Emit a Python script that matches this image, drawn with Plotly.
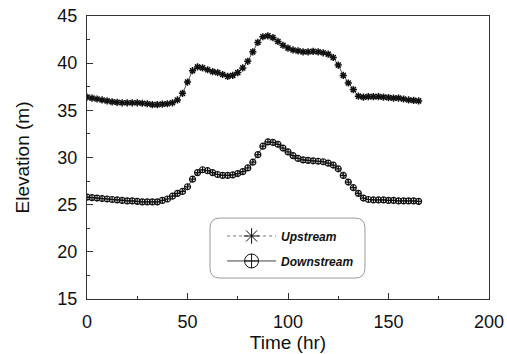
import plotly.graph_objects as go

time_hr = [i * 2.5 for i in range(67)]

upstream = [36.4, 36.3, 36.2, 36.1, 36.0, 35.9, 35.85, 35.8, 35.8, 35.8,
            35.8, 35.75, 35.7, 35.6, 35.6, 35.65, 35.7, 35.8, 36.1, 36.8,
            38.0, 39.2, 39.6, 39.5, 39.3, 39.1, 39.0, 38.8, 38.6, 38.7,
            39.0, 39.5, 40.2, 41.2, 42.2, 42.8, 42.9, 42.7, 42.3, 41.9,
            41.6, 41.4, 41.3, 41.2, 41.2, 41.25, 41.2, 41.1, 40.95, 40.6,
            39.8, 38.7, 37.9, 37.2, 36.5, 36.4, 36.45, 36.45, 36.45, 36.4,
            36.35, 36.3, 36.3, 36.2, 36.1, 36.05, 36.0]

downstream = [25.8, 25.75, 25.7, 25.65, 25.6, 25.55, 25.5, 25.45, 25.4, 25.4,
              25.35, 25.3, 25.3, 25.3, 25.3, 25.45, 25.6, 25.9, 26.2, 26.4,
              26.9, 27.7, 28.4, 28.7, 28.6, 28.4, 28.2, 28.1, 28.1, 28.15,
              28.3, 28.5, 28.9, 29.5, 30.3, 31.2, 31.65, 31.6, 31.4, 31.0,
              30.6, 30.2, 29.9, 29.75, 29.7, 29.65, 29.6, 29.55, 29.4, 29.2,
              28.8, 28.1, 27.4, 26.8, 26.2, 25.7, 25.55, 25.5, 25.5, 25.5,
              25.45, 25.45, 25.4, 25.4, 25.4, 25.4, 25.35]

series_names = ["Upstream", "Downstream"]
x_ticks = [0, 50, 100, 150, 200]
y_ticks = [15, 20, 25, 30, 35, 40, 45]

FONT = "Liberation Sans, Arial, sans-serif"
fig = go.Figure()

fig.add_trace(go.Scatter(
    x=time_hr, y=upstream, mode="lines+markers", showlegend=False,
    line=dict(color="#555555", width=1),
    marker=dict(symbol="asterisk-open", size=6, color="#111111",
                line=dict(width=1.5, color="#111111"))))
fig.add_trace(go.Scatter(
    x=time_hr, y=downstream, mode="lines+markers", showlegend=False,
    line=dict(color="#555555", width=1),
    marker=dict(symbol="circle-cross-open", size=6, color="#111111",
                line=dict(width=1.2, color="#111111"))))

# legend-only entries with larger symbols
fig.add_trace(go.Scatter(
    x=[None], y=[None], mode="lines+markers", name=series_names[0], legendgroup="a",
    line=dict(color="#777777", width=1, dash="dot"),
    marker=dict(symbol="asterisk-open", size=13, color="#111111",
                line=dict(width=1, color="#111111"))))
fig.add_trace(go.Scatter(
    x=[None], y=[None], mode="lines+markers", name=series_names[1], legendgroup="b",
    line=dict(color="#444444", width=1),
    marker=dict(symbol="circle-cross-open", size=14, color="#111111",
                line=dict(width=1, color="#111111"))))

# rounded legend box
x0, x1, y0, y1 = 0.306, 0.6915, 0.074, 0.286
rx, ry = 0.025, 0.035
path = (f"M {x0+rx},{y0} L {x1-rx},{y0} Q {x1},{y0} {x1},{y0+ry} "
        f"L {x1},{y1-ry} Q {x1},{y1} {x1-rx},{y1} L {x0+rx},{y1} "
        f"Q {x0},{y1} {x0},{y1-ry} L {x0},{y0+ry} Q {x0},{y0} {x0+rx},{y0} Z")
fig.add_shape(type="path", path=path, xref="paper", yref="paper",
              line=dict(color="#999999", width=1))

axis_common = dict(showline=True, linecolor="#333333", linewidth=1, mirror=True,
                   ticks="inside", ticklen=6, tickcolor="#333333",
                   showgrid=False, zeroline=False, automargin=False,
                   tickfont=dict(family=FONT, size=18, color="#111111"))

fig.update_xaxes(range=[0, 200], tickvals=x_ticks, ticklabelstandoff=6,
                 minor=dict(dtick=25, ticks="inside", ticklen=3, tickcolor="#333333"),
                 title=dict(text="Time (hr)", font=dict(family=FONT, size=19, color="#111111"),
                            standoff=5),
                 **axis_common)
fig.update_yaxes(range=[15, 45], tickvals=y_ticks, ticklabelstandoff=5,
                 minor=dict(dtick=2.5, ticks="inside", ticklen=3, tickcolor="#333333"),
                 title=dict(text="Elevation (m)", font=dict(family=FONT, size=19, color="#111111"),
                            standoff=22),
                 **axis_common)

fig.update_layout(
    width=507, height=354,
    margin=dict(l=87, r=18, t=16, b=55),
    paper_bgcolor="white", plot_bgcolor="white",
    legend=dict(x=0.336, y=0.274, xanchor="left", yanchor="top",
                bgcolor="rgba(0,0,0,0)", borderwidth=0,
                font=dict(family=FONT, size=12, color="#111111"),
                tracegroupgap=6, itemwidth=49),
)
fig.for_each_trace(lambda t: t.update(name=f"<b><i>{t.name}</i></b>") if t.name else None)

fig.write_html("out.html")
